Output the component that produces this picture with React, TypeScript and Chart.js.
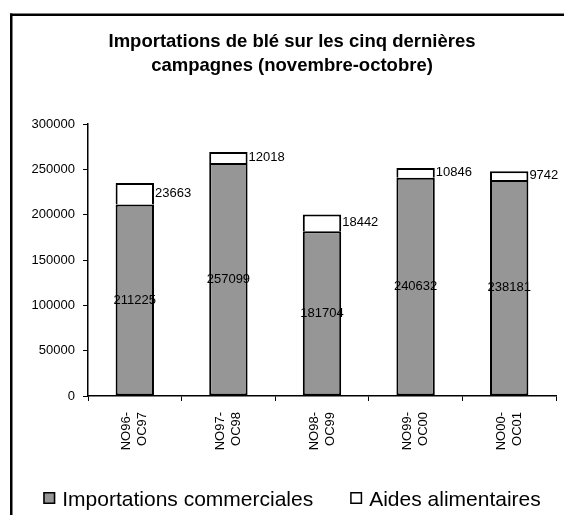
import React, { useEffect, useRef } from 'react';
import { Chart, registerables } from 'chart.js';

Chart.register(...registerables);

// ---- Data ----
const categories: string[][] = [
  ['NO96-', 'OC97'],
  ['NO97-', 'OC98'],
  ['NO98-', 'OC99'],
  ['NO99-', 'OC00'],
  ['NO00-', 'OC01'],
];
const commercialImports: number[] = [211225, 257099, 181704, 240632, 238181];
const foodAid: number[] = [23663, 12018, 18442, 10846, 9742];
const yTickValues: number[] = [0, 50000, 100000, 150000, 200000, 250000, 300000];
const seriesNames: string[] = ['Importations commerciales', 'Aides alimentaires'];
const titleLines: string[] = ['Importations de blé sur les cinq dernières', 'campagnes (novembre-octobre)'];

const FONT = "'Liberation Sans', Arial, Helvetica, sans-serif";
const GRAY = '#969696';

const framePlugin = {
  id: 'frame',
  beforeDraw(chart: any) {
    const ctx = chart.ctx;
    ctx.save();
    ctx.fillStyle = '#ffffff';
    ctx.fillRect(0, 0, chart.width, chart.height);
    ctx.fillStyle = '#000000';
    ctx.fillRect(10, 13.5, 2.5, chart.height);
    ctx.fillRect(10, 13.5, chart.width, 2.5);
    ctx.restore();
  },
};

const valueLabelPlugin = {
  id: 'valueLabels',
  afterDatasetsDraw(chart: any) {
    const ctx = chart.ctx;
    ctx.save();
    ctx.font = `13px ${FONT}`;
    ctx.fillStyle = '#000';
    ctx.textBaseline = 'middle';
    chart.data.datasets.forEach((ds: any, di: number) => {
      const meta = chart.getDatasetMeta(di);
      meta.data.forEach((bar: any, i: number) => {
        const { x, y, base, width } = bar.getProps(['x', 'y', 'base', 'width'], true);
        const midY = (y + base) / 2;
        if (di === 0) {
          ctx.textAlign = 'center';
          ctx.fillText(String(ds.data[i]), x, midY);
        } else {
          ctx.textAlign = 'left';
          ctx.fillText(String(ds.data[i]), x + width / 2 + 1, midY);
        }
      });
    });
    ctx.restore();
  },
};

const legendPlugin = {
  id: 'customLegend',
  afterDraw(chart: any) {
    const ctx = chart.ctx;
    const pad = chart.options.layout.padding;
    const center = (pad.left + chart.width - pad.right) / 2;
    const boxSize = 12;
    const boxGap = 7;
    const itemGap = 37;
    ctx.save();
    ctx.font = `21px ${FONT}`;
    const widths = chart.data.datasets.map((ds: any) => ctx.measureText(ds.label).width);
    const total = widths.reduce((a: number, w: number) => a + boxSize + boxGap + w, 0) + itemGap * (widths.length - 1);
    let x = center - total / 2;
    const cy = chart.height - 17;
    chart.data.datasets.forEach((ds: any, i: number) => {
      ctx.fillStyle = ds.backgroundColor;
      ctx.fillRect(x, cy - boxSize / 2, boxSize, boxSize);
      ctx.strokeStyle = '#000';
      ctx.lineWidth = 1.5;
      ctx.strokeRect(x + 0.75, cy - boxSize / 2 + 0.75, boxSize - 1.5, boxSize - 1.5);
      ctx.fillStyle = '#000';
      ctx.textAlign = 'left';
      ctx.textBaseline = 'middle';
      ctx.fillText(ds.label, x + boxSize + boxGap, cy + 2.5);
      x += boxSize + boxGap + widths[i] + itemGap;
    });
    ctx.restore();
  },
};

export default function App() {
  const canvasRef = useRef<HTMLCanvasElement | null>(null);

  useEffect(() => {
    if (!canvasRef.current) return;
    const chart = new Chart(canvasRef.current, {
      type: 'bar',
      data: {
        labels: categories,
        datasets: [
          {
            label: seriesNames[0],
            data: commercialImports,
            backgroundColor: GRAY,
            borderColor: '#000',
            borderWidth: 2,
            borderSkipped: false,
            barPercentage: 0.41,
            categoryPercentage: 1,
          },
          {
            label: seriesNames[1],
            data: foodAid,
            backgroundColor: '#ffffff',
            borderColor: '#000',
            borderWidth: 2,
            borderSkipped: 'start',
            barPercentage: 0.41,
            categoryPercentage: 1,
          },
        ],
      },
      options: {
        responsive: false,
        animation: false,
        devicePixelRatio: 1,
        layout: { padding: { top: 14, left: 28, right: 8, bottom: 59 } },
        plugins: {
          legend: { display: false },
          tooltip: { enabled: false },
          title: {
            display: true,
            text: titleLines,
            color: '#000',
            font: { family: FONT, size: 18.5, weight: 'bold', lineHeight: 24 / 18.5 },
            padding: { top: 16, bottom: 46 },
          },
        },
        scales: {
          x: {
            stacked: true,
            offset: true,
            grid: {
              display: true,
              offset: true,
              drawOnChartArea: false,
              drawTicks: true,
              tickLength: 5,
              color: '#000',
              lineWidth: 1,
            },
            border: { display: true, color: '#000', width: 1.5 },
            ticks: {
              color: '#000',
              font: { family: FONT, size: 13, lineHeight: 16 / 13 },
              minRotation: 90,
              maxRotation: 90,
              padding: 11,
              labelOffset: -8,
              autoSkip: false,
            },
            afterFit: (s: any) => {
              s.height = 60;
            },
          },
          y: {
            stacked: true,
            min: 0,
            max: 300000,
            afterBuildTicks: (s: any) => {
              s.ticks = yTickValues.map((v) => ({ value: v }));
            },
            grid: {
              drawOnChartArea: false,
              drawTicks: true,
              tickLength: 5,
              color: '#000',
              lineWidth: 1,
            },
            border: { display: true, color: '#000', width: 1.5 },
            ticks: {
              color: '#000',
              font: { family: FONT, size: 13 },
              padding: 8,
              callback: (v: any) => String(v),
            },
            afterFit: (s: any) => {
              s.width = 60;
            },
          },
        },
      },
      plugins: [framePlugin, valueLabelPlugin, legendPlugin],
    });
    return () => chart.destroy();
  }, []);

  return (
    <div style={{ position: 'fixed', left: 0, top: 0, width: 564, height: 515, overflow: 'hidden', background: '#fff' }}>
      <canvas ref={canvasRef} width={564} height={515} style={{ display: 'block' }} />
    </div>
  );
}
